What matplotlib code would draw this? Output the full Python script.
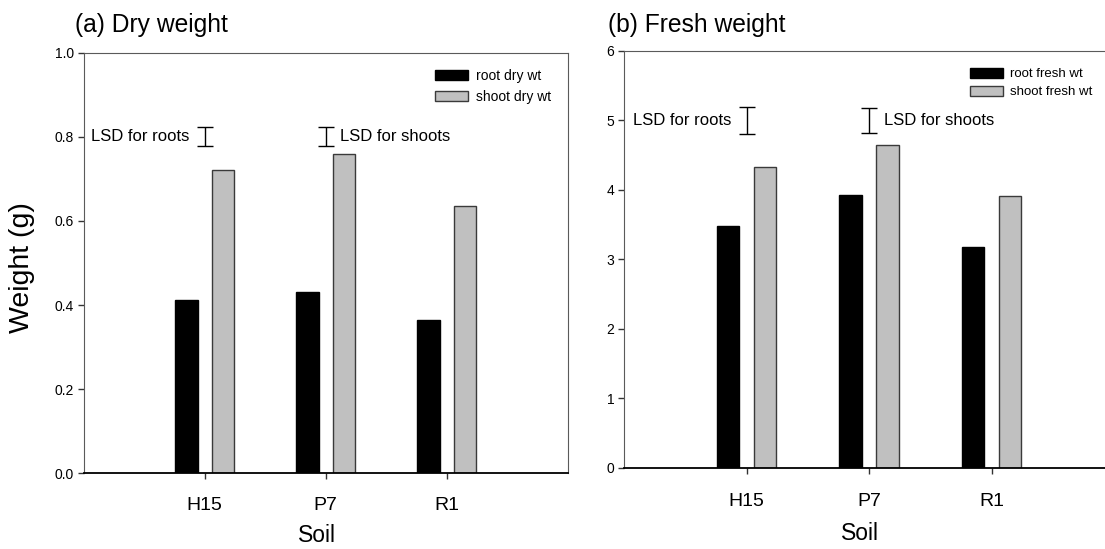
import numpy as np
import matplotlib.pyplot as plt
from matplotlib.transforms import blended_transform_factory

plt.rcParams['font.family'] = ['Liberation Sans', 'DejaVu Sans']

soils = ['H15', 'P7', 'R1']
root_dry = [0.411, 0.431, 0.364]
shoot_dry = [0.720, 0.760, 0.635]
root_fresh = [3.48, 3.93, 3.18]
shoot_fresh = [4.33, 4.65, 3.91]

# least significant differences (full length of the I-bars), roots then shoots
lsd_dry = [0.044, 0.044]
lsd_fresh = [0.39, 0.36]
lsd_dry_y = 0.801
lsd_fresh_y = 5.0

x = np.arange(1, len(soils) + 1)
w = 0.185
off = 0.15

W, H = 1105, 549
fig = plt.figure(figsize=(W / 100, H / 100), dpi=100)


def px_axes(x0, y0, x1, y1):
    # axes rectangle given in pixel coords (top-left origin)
    return fig.add_axes([x0 / W, (H - y1) / H, (x1 - x0) / W, (y1 - y0) / H])


ax1 = px_axes(83.5, 52.7, 567.7, 473.3)
ax2 = px_axes(624, 50.7, 1114, 467.7)


def draw_panel(ax, roots, shoots, labels, ymax, yticks, ticklabels, lsd, lsd_y,
               lab_y, soil_y):
    ax.bar(x - off, roots, w, color='black', edgecolor='black', linewidth=1, label=labels[0])
    ax.bar(x + off, shoots, w, color='#c0c0c0', edgecolor='#3a3a3a', linewidth=1, label=labels[1])
    ax.set_xlim(0, 4)
    ax.set_ylim(0, ymax)
    ax.set_yticks(yticks)
    ax.set_yticklabels(ticklabels, fontsize=10)
    ax.set_xticks(x)
    ax.set_xticklabels([])
    ax.tick_params(direction='out', length=4.5, width=1, color='#333333', pad=2.5)
    for s in ['left', 'top', 'right']:
        ax.spines[s].set_color('#5a5a5a')
    ax.spines['bottom'].set_color('black')
    ax.spines['bottom'].set_linewidth(1.3)

    tr = blended_transform_factory(ax.transData, fig.transFigure)
    for xi, name in zip(x, soils):
        ax.text(xi, 1 - lab_y / H, name, ha='center', va='center', fontsize=14, transform=tr)
    ax.text(1.93, 1 - soil_y / H, 'Soil', ha='center', va='center', fontsize=16.5, transform=tr)

    # LSD bars
    ax.errorbar([1, 2], [lsd_y, lsd_y], yerr=[l / 2 for l in lsd], fmt='none',
                ecolor='black', elinewidth=1, capsize=5.6, capthick=1)
    ax.annotate('LSD for roots', (1, lsd_y), xytext=(-11, 0), textcoords='offset points',
                ha='right', va='center', fontsize=12)
    ax.annotate('LSD for shoots', (2, lsd_y), xytext=(10.5, 0), textcoords='offset points',
                ha='left', va='center', fontsize=12)


draw_panel(ax1, root_dry, shoot_dry, ['root dry wt', 'shoot dry wt'], 1.0,
           [0.0, 0.2, 0.4, 0.6, 0.8, 1.0], ['0.0', '0.2', '0.4', '0.6', '0.8', '1.0'],
           lsd_dry, lsd_dry_y, 505, 535)
draw_panel(ax2, root_fresh, shoot_fresh, ['root fresh wt', 'shoot fresh wt'], 6,
           [0, 1, 2, 3, 4, 5, 6], ['0', '1', '2', '3', '4', '5', '6'],
           lsd_fresh, lsd_fresh_y, 501, 534)
# right panel runs off the edge of the figure
ax2.spines['right'].set_visible(False)

ax1.legend(loc='upper left', bbox_to_anchor=(428 / W, 1 - 62 / H), bbox_transform=fig.transFigure,
           frameon=False, fontsize=10, handlelength=2.4, handleheight=0.75,
           labelspacing=0.5, handletextpad=0.55, borderpad=0)
ax2.legend(loc='upper left', bbox_to_anchor=(963 / W, 1 - 61 / H), bbox_transform=fig.transFigure,
           frameon=False, fontsize=9.5, handlelength=2.5, handleheight=0.8,
           labelspacing=0.4, handletextpad=0.6, borderpad=0)

fig.text(75 / W, 1 - 25 / H, '(a) Dry weight', ha='left', va='center', fontsize=17.7)
fig.text(608 / W, 1 - 25 / H, '(b) Fresh weight', ha='left', va='center', fontsize=17.7)
fig.text(22 / W, 1 - 268 / H, 'Weight (g)', ha='center', va='center', fontsize=20.5, rotation=90)

fig.savefig('out.png', dpi=100)
